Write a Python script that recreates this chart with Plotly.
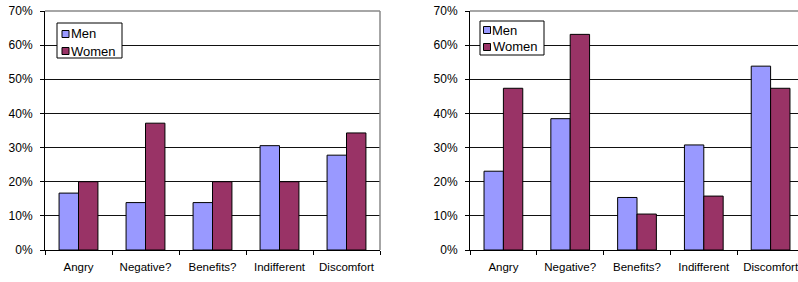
import plotly.graph_objects as go

categories = ["Angry", "Negative?", "Benefits?", "Indifferent", "Discomfort"]
series_names = ["Men", "Women"]
men_left = [6/36, 5/36, 5/36, 11/36, 10/36]
women_left = [7/35, 13/35, 7/35, 7/35, 12/35]
men_right = [3/13, 5/13, 2/13, 4/13, 7/13]
women_right = [9/19, 12/19, 2/19, 3/19, 9/19]

COLORS = ["#9999FF", "#993366"]
FONT = "Liberation Sans, Arial, sans-serif"

W, H = 798, 282
TOP, BOT = 11, 250  # plot area top/bottom in px
MT = TOP
MB = H - BOT
PH = H - MT - MB

def px_x(x):
    return x / W

def px_y(y):
    return (BOT - y) / PH

fig = go.Figure()

def add_pair(values, xa, ya):
    for name, vals, col in zip(series_names, values, COLORS):
        fig.add_trace(go.Bar(x=categories, y=vals, name=name,
                             marker=dict(color=col, line=dict(color="#000", width=1)),
                             xaxis=xa, yaxis=ya, showlegend=False, hoverinfo="skip"))

add_pair([men_left, women_left], "x", "y")
add_pair([men_right, women_right], "x2", "y2")

xcommon = dict(type="category", showline=True, linecolor="#000", linewidth=1, ticks="outside", ticklen=4,
               tickcolor="#000", tickson="boundaries", showgrid=False, automargin=False,
               ticklabelstandoff=6, ticklabeloverflow="allow",
               tickfont=dict(family=FONT, size=11.5, color="#000"))
ycommon = dict(range=[0, 0.7], dtick=0.1, tickformat=".0%", showline=True, linecolor="#000", linewidth=1,
               ticks="outside", ticklen=4, tickcolor="#000", showgrid=True, gridcolor="#111", gridwidth=1,
               automargin=False, ticklabelstandoff=5, ticklabeloverflow="allow",
               tickfont=dict(family=FONT, size=12, color="#000"), zeroline=False)

CAT_PX = 334 / 5  # category spacing in px
right_w = W - 470

border = dict(color="#888", width=1.5)
shapes = [
    dict(type="line", xref="x domain", yref="y domain", x0=0, x1=1, y0=1, y1=1, line=border, layer="above"),
    dict(type="line", xref="x domain", yref="y domain", x0=1, x1=1, y0=0, y1=1, line=border, layer="above"),
    dict(type="line", xref="x2 domain", yref="y2 domain", x0=0, x1=1, y0=1, y1=1, line=border, layer="above"),
]
annotations = []

def add_legend(bx0, by0, bx1, by1, sq_x, rows_y):
    shapes.append(dict(type="rect", xref="paper", yref="paper", x0=px_x(bx0), x1=px_x(bx1),
                       y0=px_y(by1), y1=px_y(by0), line=dict(color="#000", width=1), fillcolor="white", layer="above"))
    for name, col, cy in zip(series_names, COLORS, rows_y):
        shapes.append(dict(type="rect", xref="paper", yref="paper", x0=px_x(sq_x), x1=px_x(sq_x + 7),
                           y0=px_y(cy + 3.5), y1=px_y(cy - 3.5), line=dict(color="#000", width=1),
                           fillcolor=col, layer="above"))
        annotations.append(dict(xref="paper", yref="paper", x=px_x(sq_x + 9), y=px_y(cy), text=name,
                                showarrow=False, xanchor="left", yanchor="middle",
                                xshift=-2, font=dict(family=FONT, size=13, color="#000")))

add_legend(57, 23, 122, 58, 62, [34, 51])
add_legend(480, 21, 544, 55, 483.5, [30, 47])

fig.update_layout(
    width=W, height=H,
    margin=dict(l=0, r=0, t=MT, b=MB, pad=0),
    paper_bgcolor="white", plot_bgcolor="white",
    barmode="group", bargap=0.42, bargroupgap=0,
    xaxis=dict(domain=[px_x(45), px_x(380)], range=[-0.5, 4.5], anchor="y", **xcommon),
    yaxis=dict(domain=[0, 1], anchor="x", **ycommon),
    xaxis2=dict(domain=[px_x(470), 1.0], range=[-0.5, -0.5 + right_w / CAT_PX], anchor="y2", **xcommon),
    yaxis2=dict(domain=[0, 1], anchor="x2", **ycommon),
    showlegend=False,
    hovermode=False,
    shapes=shapes,
    annotations=annotations,
)

fig.write_html("out.html", config={"displayModeBar": False},
               post_script="document.body.style.margin='0';")
